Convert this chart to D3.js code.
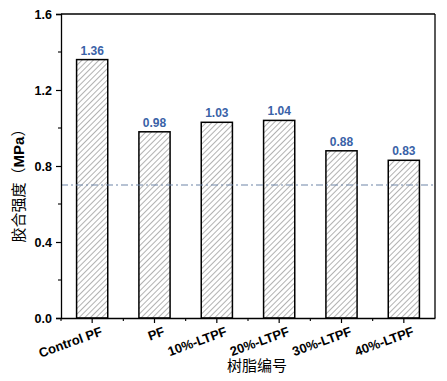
<!DOCTYPE html>
<html><head><meta charset="utf-8">
<script src="https://cdn.jsdelivr.net/npm/d3@7"></script>
<style>body{margin:0;background:#fff}svg{display:block}</style>
</head><body>
<script>
const categories = ["Control PF","PF","10%-LTPF","20%-LTPF","30%-LTPF","40%-LTPF"];
const values = [1.36,0.98,1.03,1.04,0.88,0.83];
const yTicks = [0.0,0.4,0.8,1.2,1.6];
const refValue = 0.7;

const W=447,H=381;
const m={l:61,r:12,t:14,b:63};
const svg=d3.select("body").append("svg").attr("width",W).attr("height",H);
const defs=svg.append("defs");
const pat=defs.append("pattern").attr("id","hatch").attr("patternUnits","userSpaceOnUse")
  .attr("width",4).attr("height",4).attr("patternTransform","rotate(45)");
pat.append("rect").attr("width",4).attr("height",4).attr("fill","#fff");
pat.append("line").attr("x1",0).attr("y1",0).attr("x2",0).attr("y2",4).attr("stroke","#555").attr("stroke-width",0.9);

const x=d3.scaleBand().domain(categories).range([m.l,W-m.r]).paddingInner(0).paddingOuter(0);
const y=d3.scaleLinear().domain([0,1.6]).range([H-m.b,m.t]);
const bw=x.bandwidth()*0.5;

const g=svg.append("g");
g.selectAll("rect.bar").data(values).join("rect").attr("class","bar")
 .attr("x",(d,i)=>x(categories[i])+x.bandwidth()/2-bw/2)
 .attr("y",d=>y(d)).attr("width",bw).attr("height",d=>y(0)-y(d))
 .attr("fill","url(#hatch)").attr("stroke","#000").attr("stroke-width",1.5);
g.selectAll("text.val").data(values).join("text").attr("class","val")
 .attr("x",(d,i)=>x(categories[i])+x.bandwidth()/2).attr("y",d=>y(d)-5)
 .attr("text-anchor","middle").attr("font-family","Liberation Sans, Arial, sans-serif")
 .attr("font-weight","bold").attr("font-size",12).attr("fill","#3a62a7").text(d=>d.toFixed(2));
g.append("line").attr("x1",m.l).attr("x2",W-m.r).attr("y1",y(refValue)).attr("y2",y(refValue))
 .attr("stroke","#6f86a8").attr("stroke-width",1.1).attr("stroke-dasharray","7,3,2,3");
g.append("line").attr("x1",m.l).attr("x2",W-m.r).attr("y1",m.t).attr("y2",m.t).attr("stroke","#000").attr("stroke-width",1.3);
g.append("line").attr("x1",W-m.r).attr("x2",W-m.r).attr("y1",m.t).attr("y2",H-m.b).attr("stroke","#000").attr("stroke-width",1.3);

const ya=svg.append("g").attr("transform",`translate(${m.l},0)`)
 .call(d3.axisLeft(y).tickValues(yTicks).tickFormat(d3.format(".1f")).tickSize(5).tickPadding(4));
ya.select(".domain").attr("stroke-width",1.3);
ya.selectAll(".tick line").attr("stroke-width",1.2);
ya.selectAll(".tick text").attr("font-family","Liberation Sans, Arial, sans-serif").attr("font-weight","bold").attr("font-size",12.5).attr("fill","#000");
const yMinor=d3.range(0.2,1.6,0.4);
svg.append("g").selectAll("line").data(yMinor).join("line")
 .attr("x1",m.l-3).attr("x2",m.l).attr("y1",d=>y(d)).attr("y2",d=>y(d)).attr("stroke","#000").attr("stroke-width",1.1);

const xa=svg.append("g").attr("transform",`translate(0,${H-m.b})`)
 .call(d3.axisBottom(x).tickSize(5).tickSizeOuter(0).tickFormat(""));
xa.select(".domain").attr("stroke-width",1.3);
xa.selectAll(".tick line").attr("stroke-width",1.2);
svg.append("g").selectAll("line").data(categories).join("line")
 .attr("x1",d=>x(d)).attr("x2",d=>x(d)).attr("y1",H-m.b).attr("y2",H-m.b+3).attr("stroke","#000").attr("stroke-width",1.1);
svg.append("g").selectAll("text").data(categories).join("text")
 .attr("transform",d=>`translate(${x(d)+x.bandwidth()/2+11},${H-m.b+17}) rotate(-20)`)
 .attr("text-anchor","end").attr("font-family","Liberation Sans, Arial, sans-serif")
 .attr("font-weight","bold").attr("font-size",13).attr("fill","#000").text(d=>d);

svg.append("text").attr("x",257).attr("y",371).attr("text-anchor","middle")
 .attr("font-family","Noto Sans CJK SC, sans-serif").attr("font-size",15).attr("fill","#000").text("树脂编号");
const yt=svg.append("text").attr("transform",`translate(24,182) rotate(-90)`).attr("text-anchor","middle")
 .attr("font-family","Noto Sans CJK SC, sans-serif").attr("font-size",15).attr("fill","#000");
yt.append("tspan").text("胶合强度（");
yt.append("tspan").attr("font-family","Liberation Sans, Arial, sans-serif").attr("font-weight","bold").text("MPa");
yt.append("tspan").text("）");
</script>
</body></html>
